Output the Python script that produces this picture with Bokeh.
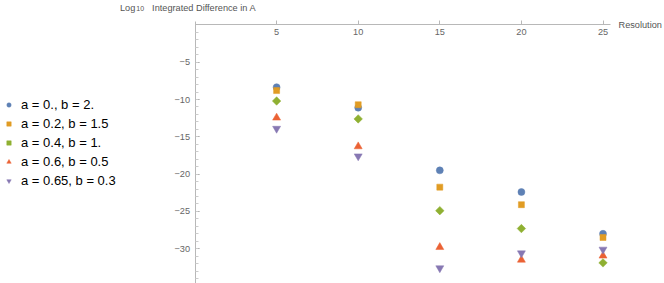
import math
from bokeh.plotting import figure
from bokeh.models import (LinearAxis, FixedTicker, Label, Legend, LegendItem, Range1d)
from bokeh.embed import file_html
from bokeh.resources import INLINE

# ---- data ----
resolution = [5, 10, 15, 20, 25]
series_labels = ["a = 0., b = 2.", "a = 0.2, b = 1.5", "a = 0.4, b = 1.",
                 "a = 0.6, b = 0.5", "a = 0.65, b = 0.3"]
s_a0 = [-8.35, -11.1, -19.5, -22.4, -28.0]
s_a02 = [-8.8, -10.7, -21.75, -24.1, -28.5]
s_a04 = [-10.2, -12.6, -24.9, -27.3, -31.9]
s_a06 = [-12.45, -16.3, -29.8, -31.5, -30.95]
s_a065 = [-13.9, -17.6, -32.6, -30.6, -30.1]
x_ticks = [5, 10, 15, 20, 25]
y_ticks = [-30, -25, -20, -15, -10, -5]
y_tick_labels = ["\u221230", "\u221225", "\u221220", "\u221215", "\u221210", "\u22125"]
y_minor = list(range(-34, 0))

colors = ["#5E81B5", "#E19C24", "#8FB032", "#EB6235", "#8778B3"]
markers = ["circle", "square", "square", "triangle", "inverted_triangle"]
angles = [0, 0, math.pi / 4, 0, 0]
sizes = [7, 6, 6, 8, 8]

FONT = "Liberation Sans"
AXIS_COL = "#b8b8b8"
TEXT_COL = "#666666"
LAB_COL = "#555555"
LAB_SIZE = "9.2px"

p = figure(width=664, height=283, output_backend="svg", toolbar_location=None,
           x_range=Range1d(-11.918, 28.768), y_range=Range1d(-34.665, 3.271),
           x_axis_type=None, y_axis_type=None,
           min_border_left=0, min_border_right=0, min_border_top=0,
           min_border_bottom=0, outline_line_color=None)
p.grid.visible = False
p.background_fill_color = "white"

# x axis (at y = 0, labels below the line)
xa = LinearAxis(fixed_location=0, bounds=(0, 25.45), ticker=FixedTicker(ticks=x_ticks))
xa.axis_line_color = AXIS_COL
xa.major_tick_line_color = AXIS_COL
xa.major_tick_in = 4
xa.major_tick_out = 0
xa.minor_tick_line_color = None
xa.major_label_standoff = 4
xa.major_label_text_font = FONT
xa.major_label_text_font_size = LAB_SIZE
xa.major_label_text_color = TEXT_COL
p.add_layout(xa, "below")

# y axis (at x = 0)
ya = LinearAxis(fixed_location=0, bounds=(-34.7, 0.5),
                ticker=FixedTicker(ticks=y_ticks, minor_ticks=y_minor))
ya.axis_line_color = AXIS_COL
ya.major_tick_line_color = "#999999"
ya.minor_tick_line_color = "#cccccc"
ya.major_tick_in = 4
ya.major_tick_out = 0
ya.minor_tick_in = 3
ya.minor_tick_out = 0
ya.major_label_standoff = 5
ya.major_label_text_font = FONT
ya.major_label_text_font_size = LAB_SIZE
ya.major_label_text_color = TEXT_COL
ya.major_label_overrides = {t: l for t, l in zip(y_ticks, y_tick_labels)}
p.add_layout(ya, "left")

all_series = [s_a0, s_a02, s_a04, s_a06, s_a065]
items = []
for lab, ys, c, m, a, s in zip(series_labels, all_series, colors, markers, angles, sizes):
    r = p.scatter(resolution, ys, marker=m, size=s, angle=a, fill_color=c,
                  line_color=c, line_width=0.5)
    items.append(LegendItem(label=lab, renderers=[r]))

legend = Legend(items=items, location=(3, 93), margin=0, padding=0,
                spacing=0, glyph_width=11, glyph_height=19, label_standoff=7,
                label_text_font=FONT, label_text_font_size="13px",
                label_text_color="black", border_line_color=None,
                background_fill_alpha=0)
p.add_layout(legend, "center")

# axis labels
p.add_layout(Label(x=-4.6, y=3.0, text="Log", text_font=FONT, text_font_size=LAB_SIZE,
                   text_color=LAB_COL, text_baseline="top"))
p.add_layout(Label(x=-3.6, y=2.55, text="10", text_font=FONT, text_font_size="7px",
                   text_color=LAB_COL, text_baseline="top"))
p.add_layout(Label(x=-2.63, y=3.0, text="Integrated Difference in A", text_font=FONT,
                   text_font_size=LAB_SIZE, text_color=LAB_COL, text_baseline="top"))
p.add_layout(Label(x=25.95, y=-0.08, text="Resolution", text_font=FONT,
                   text_font_size=LAB_SIZE, text_color=LAB_COL, text_baseline="middle"))

open("out.html", "w").write(file_html(p, INLINE))
